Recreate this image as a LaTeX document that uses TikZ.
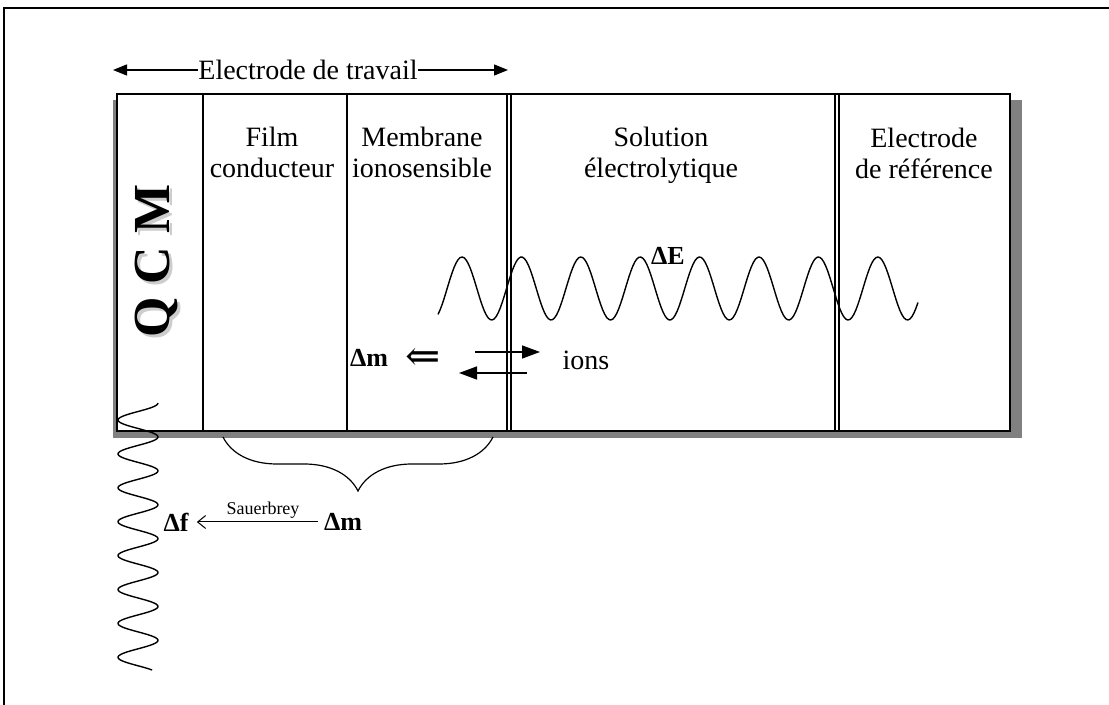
\documentclass[tikz,border=0pt]{standalone}
\usepackage{fontspec}
\setmainfont{Liberation Serif}
\newfontfamily\arrowfont{DejaVu Serif}
\usetikzlibrary{arrows.meta,decorations.pathreplacing}
\definecolor{shadowGray}{RGB}{128,128,128}
\definecolor{letterGray}{RGB}{205,205,205}

\begin{document}
\begin{tikzpicture}[x=0.5pt,y=-0.5pt,
    every node/.style={inner sep=0pt},
    title/.style={align=center,font=\fontsize{14}{15.5}\selectfont},
    delta/.style={font=\fontsize{13}{15}\selectfont\bfseries},
    qcm/.style={rotate=90,font=\fontsize{26}{28}\selectfont\bfseries},
    wall/.style={line width=1pt},
    thinwall/.style={line width=0.6pt},
    wave/.style={line width=0.7pt},
    bighead/.style={-{Triangle[length=7pt,width=5.5pt]},line width=0.7pt},
    ionhead/.style={-{Triangle[length=9pt,width=6.5pt]},line width=0.7pt}]
  \useasboundingbox (0,0) rectangle (1109,705);

  % page frame
  \draw[line width=0.8pt] (4,705) -- (4,8) -- (1109,8);

  % cell with its shadow
  \fill[shadowGray] (113,100) rectangle (1022,438);
  \draw[wall, fill=white] (117,94) rectangle (1010,431);

  % layer walls
  \draw[wall] (203,94) -- (203,431);
  \draw[wall] (347,94) -- (347,431);
  \draw[thinwall] (507,94) -- (507,431) (511,94) -- (511,431);
  \draw[thinwall] (835,94) -- (835,431) (839,94) -- (839,431);

  % layer names
  \node[title] (film) at (272,156) {\strut Film\\\strut conducteur};
  \node[title] (membrane) at (422,156) {\strut Membrane\\\strut ionosensible};
  \node[title] (solution) at (661,156) {\strut Solution\\\strut électrolytique};
  \node[title] (refel) at (924,157) {\strut Electrode\\\strut de référence};

  % Q C M
  \node[qcm, text=letterGray] at (159,264) {Q C M};
  \node[qcm] (qcm) at (156,261) {Q C M};

  % working electrode span
  \node[title] (trav) at (308,70) {Electrode de travail};
  \coordinate (travL) at (113,70);
  \coordinate (travR) at (508,70);
  \draw[bighead] (trav) -- (travL);
  \draw[bighead] (trav) -- (travR);

  % potential wave
  \draw[wave] plot[domain=438:918, samples=240] (\x,{288.5-31.5*cos((\x-462)/59.4*360)});
  \node[delta] (dE) at (668,256) {ΔE};

  % ion exchange
  \node[delta] (dm1) at (369,358) {Δm};
  \node[font=\fontsize{21}{22}\arrowfont] (impl) at (423,359) {⇐};
  \node[title] (ions) at (586,360) {ions};
  \coordinate (inS) at (475,352);
  \coordinate (inE) at (540,352);
  \coordinate (outS) at (527,373);
  \coordinate (outE) at (459,373);
  \draw[ionhead] (inS) -- (inE);
  \draw[ionhead] (outS) -- (outE);

  % brace under film + membrane
  \coordinate (braceR) at (493,437);
  \coordinate (braceL) at (223,437);
  \draw[thinwall, decorate, decoration={brace, amplitude=27pt}] (braceR) -- (braceL);

  % frequency wave
  \draw[wave] plot[domain=403:670, samples=240] ({138-20*cos((\x-420)/33.9*360)},\x);

  % Sauerbrey relation
  \node[delta] (df) at (176,522) {Δf};
  \node[delta] (dm2) at (343,522) {Δm};
  \node[font=\fontsize{9}{10}\selectfont] (sauer) at (263,510) {Sauerbrey};
  \draw[-{Straight Barb[length=4pt,width=6.5pt]}, line width=0.5pt,
        shorten <=3pt, shorten >=4pt] (dm2) -- (df);
\end{tikzpicture}
\end{document}
